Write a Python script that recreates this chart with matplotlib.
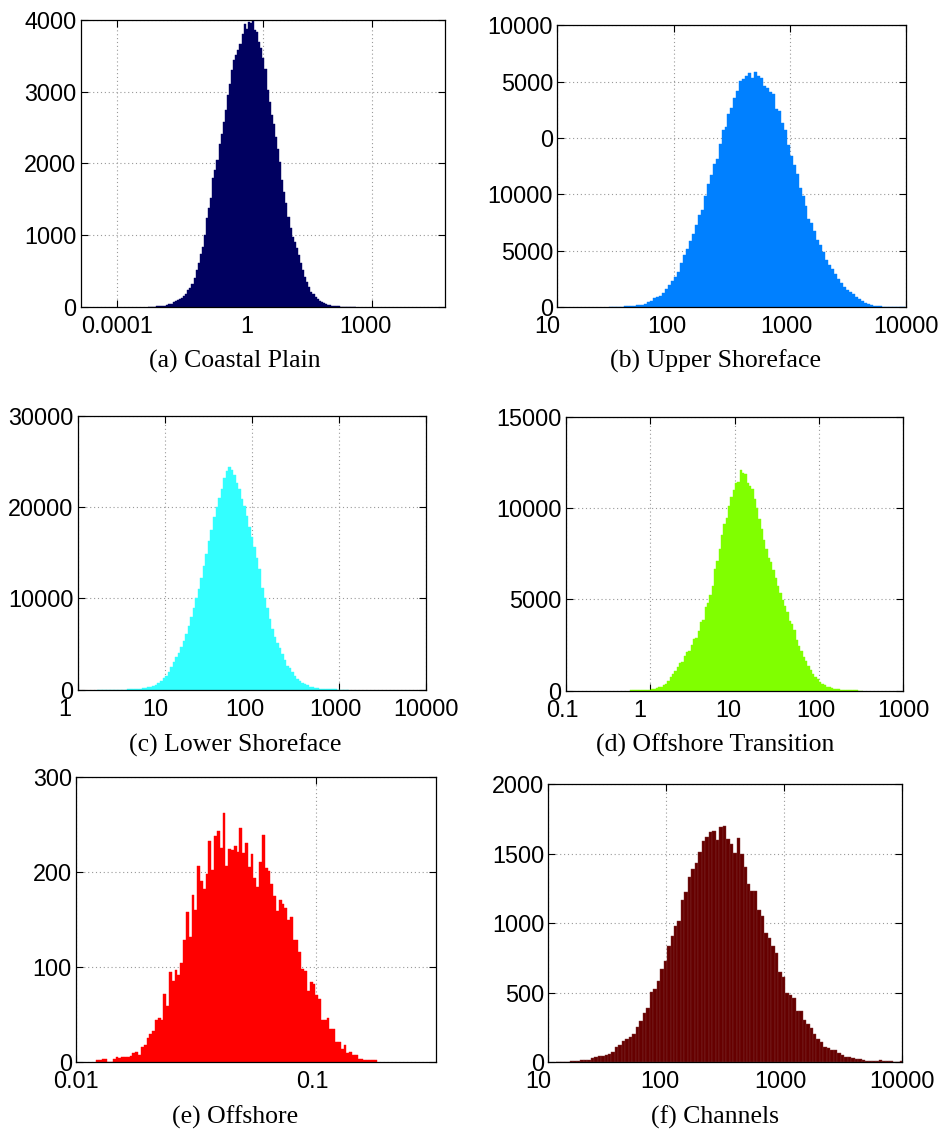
import numpy as np
import matplotlib
matplotlib.use('Agg')
import matplotlib.pyplot as plt
from matplotlib import transforms
from matplotlib.ticker import NullLocator

# bin counts (100 log-spaced bins per panel)
coastal_plain = [2, 3, 5, 6, 8, 10, 12, 15, 20, 25,
                 40, 48, 75, 90, 97, 110, 130, 150, 186, 230,
                 270, 325, 400, 515, 608, 738, 840, 1002, 1234, 1374,
                 1513, 1791, 1907, 2046, 2278, 2418, 2580, 2742, 2951, 3114,
                 3299, 3439, 3508, 3578, 3671, 3810, 3949, 3870, 3972, 3963,
                 3981, 3856, 3833, 3694, 3615, 3476, 3323, 3021, 2858, 2673,
                 2557, 2371, 2209, 2023, 1768, 1606, 1443, 1258, 1095, 979,
                 910, 817, 724, 608, 515, 422, 353, 283, 213, 176,
                 144, 111, 88, 70, 56, 42, 33, 23, 19, 14,
                 10, 8, 6, 5, 4, 3, 2, 2, 1, 1]

upper_shoreface = [20, 25, 30, 35, 40, 50, 60, 90, 110, 140,
                   160, 200, 260, 400, 560, 760, 900, 1000, 1218, 1575,
                   1961, 2317, 2704, 3149, 3892, 4635, 5169, 5882, 6477, 7308,
                   8200, 8586, 9834, 10873, 11676, 12716, 13161, 14438, 15686, 16013,
                   17112, 17647, 18538, 19192, 20083, 20232, 20470, 20800, 20300, 20826,
                   20470, 20291, 19578, 19400, 19043, 18900, 17558, 17400, 16370, 15716,
                   14349, 13399, 12567, 11765, 10576, 9834, 8942, 7813, 7457, 6714,
                   5971, 5526, 4843, 4189, 3684, 3357, 2911, 2496, 2169, 1812,
                   1515, 1307, 1129, 862, 683, 565, 386, 238, 149, 119,
                   89, 60, 40, 30, 20, 15, 10, 8, 5, 3]

lower_shoreface = [1, 1, 2, 2, 3, 4, 5, 7, 9, 12,
                   15, 19, 24, 30, 35, 45, 75, 100, 140, 220,
                   270, 330, 420, 510, 730, 950, 1240, 1500, 1970, 2520,
                   3030, 3540, 4050, 4630, 5330, 6100, 7010, 7920, 8900, 10000,
                   11060, 12190, 13540, 14820, 16280, 17480, 18870, 20040, 20950, 21930,
                   23140, 23940, 24340, 24050, 23500, 22660, 21930, 20840, 20110, 19010,
                   17850, 16680, 15580, 14380, 13180, 11090, 10000, 8900, 7700, 6610,
                   5800, 5150, 4530, 3900, 3250, 2590, 2340, 1970, 1500, 1200,
                   985, 770, 620, 475, 330, 255, 180, 150, 110, 90,
                   70, 60, 45, 35, 30, 20, 15, 10, 6, 3]

offshore_transition = [15, 15, 18, 18, 20, 20, 25, 30, 50, 73,
                       90, 165, 180, 220, 300, 350, 530, 730, 900, 1100,
                       1320, 1500, 1575, 1900, 2100, 2180, 2510, 2840, 2910, 3280,
                       3740, 3880, 4580, 4800, 5260, 5710, 6670, 7090, 7770, 8530,
                       9100, 9470, 10110, 10600, 10990, 11390, 11430, 12070, 11940, 11850,
                       11390, 11210, 11030, 10480, 9980, 9410, 8830, 8240, 7730, 7270,
                       7030, 6590, 6170, 5750, 5350, 4980, 4620, 4290, 3790, 3640,
                       3330, 2780, 2470, 2180, 1870, 1650, 1360, 1140, 900, 750,
                       620, 460, 370, 290, 220, 180, 150, 110, 90, 73,
                       60, 45, 37, 30, 25, 20, 15, 12, 10, 8]

offshore = [2, 2, 3, 3, 0, 0, 3, 5, 4, 5,
            5, 5, 6, 10, 11, 7, 16, 18, 25, 29,
            33, 44, 46, 44, 72, 59, 95, 85, 97, 92,
            104, 129, 158, 132, 176, 160, 207, 191, 182, 198,
            233, 202, 238, 243, 226, 262, 207, 224, 223, 228,
            221, 247, 220, 231, 205, 219, 194, 184, 211, 239,
            204, 201, 188, 175, 159, 171, 167, 162, 150, 153,
            129, 129, 116, 98, 96, 75, 84, 82, 71, 66,
            44, 44, 46, 35, 35, 21, 21, 14, 18, 10,
            11, 7, 7, 3, 3, 2, 2, 2, 2, 2]

channels = [2, 2, 3, 3, 4, 5, 10, 12, 12, 15,
            32, 36, 42, 45, 52, 55, 75, 108, 120, 149,
            168, 183, 200, 252, 296, 353, 392, 502, 529, 582,
            668, 726, 832, 904, 976, 1019, 1168, 1221, 1329, 1392,
            1433, 1512, 1589, 1620, 1656, 1661, 1596, 1690, 1700, 1606,
            1572, 1505, 1611, 1498, 1406, 1279, 1228, 1228, 1094, 1055,
            928, 892, 834, 784, 647, 615, 500, 481, 464, 368,
            368, 305, 274, 248, 204, 168, 144, 111, 103, 87,
            87, 65, 53, 36, 34, 29, 19, 24, 12, 7,
            7, 7, 5, 12, 7, 5, 5, 2, 2, 10]

# log10 of first bin edge and bin width (decades)
coastal_plain_bins = (-3.164, 0.0573)
upper_shoreface_bins = (1.444, 0.0255)
lower_shoreface_bins = (0.22, 0.029)
offshore_transition_bins = (-0.236, 0.0276)
offshore_bins = (-1.917, 0.01174)
channels_bins = (1.0646, 0.02949)

captions = ['(a) Coastal Plain', '(b) Upper Shoreface', '(c) Lower Shoreface',
            '(d) Offshore Transition', '(e) Offshore', '(f) Channels']

xtick_vals = [[1e-4, 1, 1e3], [10, 100, 1000, 10000], [1, 10, 100, 1000, 10000],
              [0.1, 1, 10, 100, 1000], [0.01, 0.1], [10, 100, 1000, 10000]]
xtick_labels = [['0.0001', '1', '1000'], ['10', '100', '1000', '10000'],
                ['1', '10', '100', '1000', '10000'], ['0.1', '1', '10', '100', '1000'],
                ['0.01', '0.1'], ['10', '100', '1000', '10000']]
ytick_vals = [[0, 1000, 2000, 3000, 4000], [0, 5000, 10000, 15000, 20000, 25000],
              [0, 10000, 20000, 30000], [0, 5000, 10000, 15000],
              [0, 100, 200, 300], [0, 500, 1000, 1500, 2000]]
ytick_labels = [['0', '1000', '2000', '3000', '4000'],
                ['0', '5000', '10000', '0', '5000', '10000'],
                ['0', '10000', '20000', '30000'], ['0', '5000', '10000', '15000'],
                ['0', '100', '200', '300'], ['0', '500', '1000', '1500', '2000']]

FIG_W, FIG_H = 942, 1130
TICK_FONT = dict(family='Liberation Sans', size=16.8)

panels = [
    (coastal_plain, coastal_plain_bins, '#000060', (1e-5, 1e5), (80.7, 20, 445, 307), (235, 368)),
    (upper_shoreface, upper_shoreface_bins, '#0080ff', (10, 1e4), (557.3, 25.3, 906, 307), (715, 368)),
    (lower_shoreface, lower_shoreface_bins, '#33ffff', (1, 1e4), (77.7, 415.7, 426, 689.7), (235, 751.5)),
    (offshore_transition, offshore_transition_bins, '#80ff00', (0.1, 1000), (565.7, 416.7, 903.3, 690.7), (715, 751.5)),
    (offshore, offshore_bins, '#ff0000', (0.01, 0.3177), (76, 777.3, 436, 1062), (235, 1124)),
    (channels, channels_bins, '#660000', (10, 1e4), (548.3, 784.3, 901.7, 1062), (715, 1124)),
]

fig = plt.figure(figsize=(FIG_W / 100, FIG_H / 100), dpi=100)

for i, (counts, (start, width), color, xlim, box, cap) in enumerate(panels):
    x0, y0, x1, y1 = box
    ax = fig.add_axes([x0 / FIG_W, 1 - y1 / FIG_H, (x1 - x0) / FIG_W, (y1 - y0) / FIG_H])
    counts = np.asarray(counts)
    edges = 10 ** (start + width * np.arange(len(counts) + 1))
    if i == 5:
        # channels bars show faint lighter separators in the original
        ax.bar(edges[:-1], counts, width=np.diff(edges), align='edge',
               color=color, edgecolor='#7e3434', linewidth=0.3)
    else:
        ax.bar(edges[:-1], counts, width=np.diff(edges), align='edge',
               color=color, edgecolor=color, linewidth=0.3)

    ax.set_xscale('log')
    ax.set_xlim(*xlim)
    ax.set_ylim(ytick_vals[i][0], ytick_vals[i][-1])
    ax.xaxis.set_minor_locator(NullLocator())
    ax.set_xticks(xtick_vals[i])
    ax.set_yticks(ytick_vals[i])
    ax.set_yticklabels(ytick_labels[i], fontdict=TICK_FONT)
    ax.tick_params(direction='in', top=True, right=True, length=5, width=0.8,
                   labelbottom=False, pad=3)
    ax.set_axisbelow(True)
    ax.grid(True, which='major', color='0.6', linestyle=(0, (1, 2.5)), linewidth=0.8)
    for sp in ax.spines.values():
        sp.set_linewidth(0.9)

    # MATLAB-style x tick labels, shorter labels sit a little left of their tick
    trans = transforms.blended_transform_factory(ax.transData, ax.transAxes)
    maxlen = max(len(s) for s in xtick_labels[i])
    for v, s in zip(xtick_vals[i], xtick_labels[i]):
        dx = -3.3 * (maxlen - len(s))
        off = transforms.ScaledTranslation(dx / 100, -8 / 100, fig.dpi_scale_trans)
        ax.text(v, 0, s, transform=trans + off, ha='center', va='top', **TICK_FONT)

    fig.text(cap[0] / FIG_W, 1 - cap[1] / FIG_H, captions[i], ha='center',
             va='baseline', family='Liberation Serif', fontsize=18.5)

fig.savefig('out.png', dpi=100)
